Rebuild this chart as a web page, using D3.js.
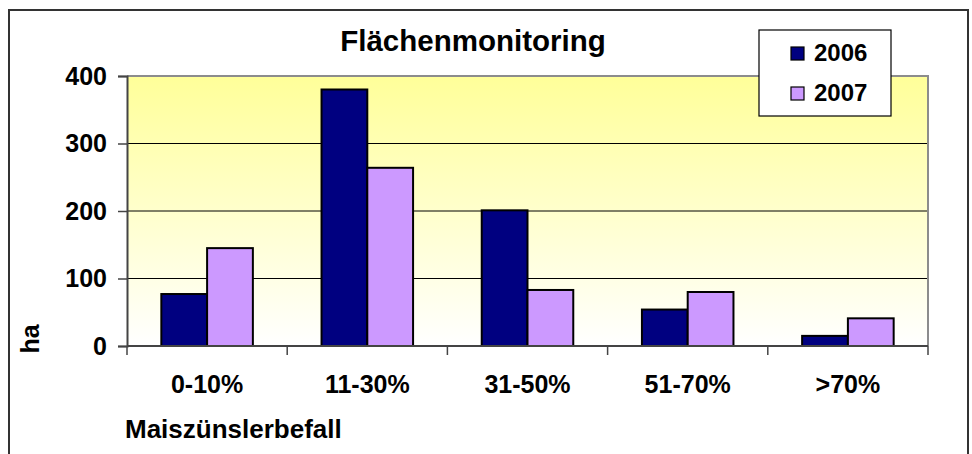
<!DOCTYPE html>
<html>
<head>
<meta charset="utf-8">
<script src="https://cdn.jsdelivr.net/npm/d3@7"></script>
<style>
  body { margin: 0; background: #fff; }
  text { font-family: "Liberation Sans", Arial, sans-serif; font-weight: bold; fill: #000; }
</style>
</head>
<body>
<div id="container"></div>
<script>
// data
const categories = ["0-10%", "11-30%", "31-50%", "51-70%", ">70%"];
const seriesNames = ["2006", "2007"];
const values2006 = [77, 380, 201, 54, 15];
const values2007 = [145, 264, 83, 80, 41];
const yTicks = [0, 100, 200, 300, 400];
const colors = ["#000080", "#CC99FF"];

var margin = {top: 76, right: 44, bottom: 108, left: 127},
    width = 972 - margin.left - margin.right,
    height = 454 - margin.top - margin.bottom;

const root = d3.select("#container")
  .append("svg")
    .attr("width", 972)
    .attr("height", 454);

// outer chart frame
root.append("rect")
  .attr("x", 9)
  .attr("y", 10)
  .attr("width", 959)
  .attr("height", 470)
  .attr("fill", "none")
  .attr("stroke", "#333")
  .attr("stroke-width", 2);

const defs = root.append("defs");
const grad = defs.append("linearGradient")
  .attr("id", "bg")
  .attr("x1", 0).attr("y1", 0)
  .attr("x2", 0).attr("y2", 1);
grad.append("stop").attr("offset", "0%").attr("stop-color", "#FFFF99");
grad.append("stop").attr("offset", "100%").attr("stop-color", "#FFFFFF");

const svg = root.append("g")
  .attr("transform", "translate(" + margin.left + "," + margin.top + ")");

const rows = categories.map((c, i) => ({cat: c, vals: [values2006[i], values2007[i]]}));

const x0 = d3.scaleBand()
  .domain(categories)
  .range([0, width])
  .padding(0);

const x1 = d3.scaleBand()
  .domain(seriesNames)
  .range([0, x0.bandwidth()])
  .paddingInner(0)
  .paddingOuter(0.75);

const y = d3.scaleLinear()
  .domain([0, 400])
  .range([height, 0]);

// plot background
svg.append("rect")
  .attr("width", width)
  .attr("height", height)
  .attr("fill", "url(#bg)");

// gridlines
svg.selectAll(".grid")
  .data(yTicks.filter(d => d > 0 && d < 400))
  .enter()
  .append("line")
    .attr("x1", 0)
    .attr("x2", width)
    .attr("y1", d => y(d))
    .attr("y2", d => y(d))
    .attr("stroke", "#000")
    .attr("stroke-width", 1);

// plot border (top/right gray)
svg.append("path")
  .attr("d", "M0," + y(400) + "H" + width + "V" + height)
  .attr("fill", "none")
  .attr("stroke", "#8c8c8c")
  .attr("stroke-width", 2);

// bars
svg.selectAll(".bar-group")
  .data(rows)
  .enter()
  .append("g")
    .attr("transform", d => `translate(${x0(d.cat)},0)`)
  .selectAll("rect")
  .data(d => d.vals.map((v, i) => ({name: seriesNames[i], value: v, i: i})))
  .enter()
  .append("rect")
    .attr("x", d => x1(d.name))
    .attr("y", d => y(d.value))
    .attr("width", x1.bandwidth())
    .attr("height", d => height - y(d.value))
    .attr("fill", d => colors[d.i])
    .attr("stroke", "#000")
    .attr("stroke-width", 2);

// y axis
const yAxis = svg.append("g")
  .call(d3.axisLeft(y).tickValues(yTicks).tickSize(9).tickPadding(11));
yAxis.select(".domain").attr("stroke", "#444").attr("stroke-width", 2);
yAxis.selectAll(".tick line").attr("stroke", "#444").attr("stroke-width", 1.5);
yAxis.selectAll("text")
  .style("font-size", "25px")
  .style("font-family", "'Liberation Sans', Arial, sans-serif")
  .style("font-weight", "bold")
  .attr("fill", "#000");

// x axis with ticks between categories
const xEdges = d3.range(categories.length + 1).map(i => i * x0.step());
const xAxis = svg.append("g")
  .attr("transform", `translate(0,${height})`);
xAxis.append("line")
  .attr("x1", 0).attr("x2", width)
  .attr("stroke", "#444").attr("stroke-width", 2);
xAxis.selectAll(".xt")
  .data(xEdges)
  .enter()
  .append("line")
    .attr("x1", d => d).attr("x2", d => d)
    .attr("y1", 0).attr("y2", 9)
    .attr("stroke", "#444").attr("stroke-width", 1.5);
xAxis.selectAll(".xl")
  .data(categories)
  .enter()
  .append("text")
    .attr("x", d => x0(d) + x0.bandwidth() / 2)
    .attr("y", 47)
    .attr("text-anchor", "middle")
    .style("font-size", "25px")
    .text(d => d);

// title
root.append("text")
  .attr("x", 473)
  .attr("y", 51)
  .attr("text-anchor", "middle")
  .style("font-size", "29.5px")
  .text("Flächenmonitoring");

// axis titles
root.append("text")
  .attr("x", 125)
  .attr("y", 438)
  .style("font-size", "26px")
  .text("Maiszünslerbefall");

root.append("text")
  .attr("transform", "translate(39,339)rotate(-90)")
  .attr("text-anchor", "middle")
  .style("font-size", "25px")
  .text("ha");

// legend
const legendBox = root.append("g")
  .attr("transform", "translate(759,30)");
legendBox.append("rect")
  .attr("width", 132)
  .attr("height", 86)
  .attr("fill", "#fff")
  .attr("stroke", "#000")
  .attr("stroke-width", 1.2);

const legend = legendBox.selectAll(".legend")
  .data(seriesNames)
  .enter()
  .append("g")
    .attr("class", "legend")
    .attr("transform", (d, i) => `translate(0,${i * 40})`);

legend.append("rect")
  .attr("x", 32)
  .attr("y", 17)
  .attr("width", 13)
  .attr("height", 13)
  .attr("fill", (d, i) => colors[i])
  .attr("stroke", "#000")
  .attr("stroke-width", 1.2);

legend.append("text")
  .attr("x", 55)
  .attr("y", 31)
  .style("font-size", "24px")
  .text(d => d);
</script>
</body>
</html>
